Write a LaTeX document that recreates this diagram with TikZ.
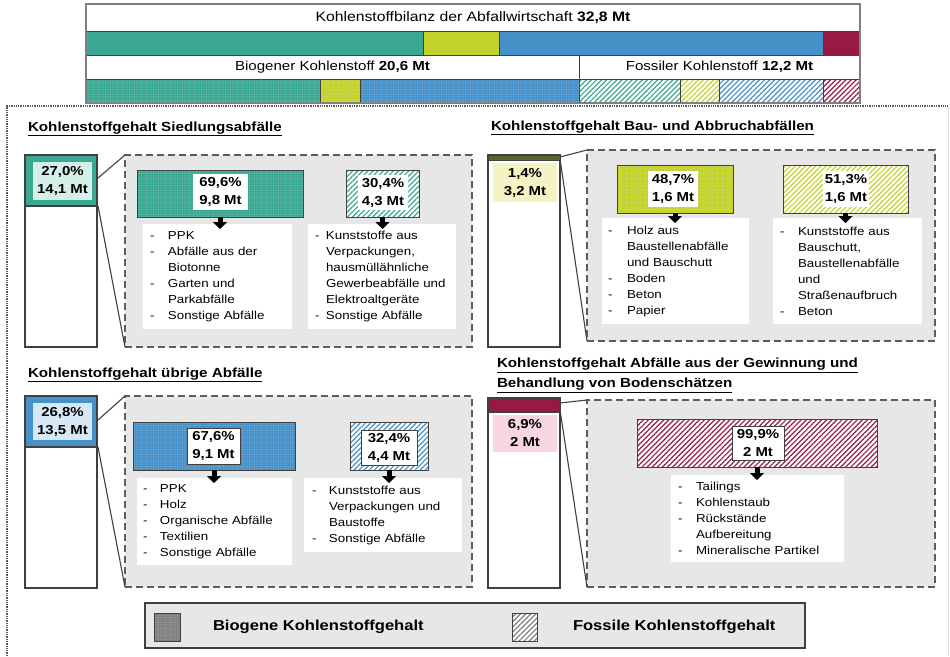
\documentclass[tikz,border=0pt]{standalone}
\usepackage{fontspec}
\setmainfont{Liberation Sans}[FakeStretch=1.15]
\usetikzlibrary{patterns.meta,arrows.meta,calc}

\definecolor{cteal}{RGB}{58,168,146}
\definecolor{cyel}{RGB}{196,210,44}
\definecolor{cblue}{RGB}{70,145,200}
\definecolor{cred}{RGB}{152,26,68}
\definecolor{lteal}{RGB}{214,238,232}
\definecolor{lblue}{RGB}{214,232,246}
\definecolor{lyel}{RGB}{245,243,196}
\definecolor{lpink}{RGB}{247,214,226}
\definecolor{panelgray}{RGB}{231,231,231}
\definecolor{edge}{RGB}{64,64,64}
\definecolor{darkolive}{RGB}{96,96,44}
\definecolor{swatchgray}{RGB}{128,128,128}

\newcommand\ftop{\fontsize{13.7pt}{16pt}\selectfont}
\newcommand\fsub{\fontsize{13.1pt}{16pt}\selectfont}
\newcommand\fsec{\fontsize{13.2pt}{20pt}\selectfont\bfseries}
\newcommand\flist{\fontsize{11.6pt}{16pt}\selectfont}
\newcommand\flbl{\fontsize{13pt}{18pt}\selectfont\bfseries}
\newcommand\fleg{\fontsize{14.4pt}{17pt}\selectfont\bfseries}

\newlength\dashw
\newcommand\dl{\makebox[\dashw][l]{-}}
\newcommand\cl{\makebox[\dashw][l]{}}

% rectangle node given by its corners (x1,y1)-(x2,y2)
\newcommand\rbox[7][]{%
  \pgfmathsetmacro\rbW{#5-#3}\pgfmathsetmacro\rbH{#6-#4}%
  \pgfmathsetmacro\rbX{(#3+#5)/2}\pgfmathsetmacro\rbY{(#4+#6)/2}%
  \node[minimum width=\rbW pt, minimum height=\rbH pt, #1] (#2) at (\rbX,\rbY) {#7};}

% white list box with left padding #6
\newcommand\lbox[7]{%
  \pgfmathsetmacro\rbW{#4-#2}\pgfmathsetmacro\rbH{#5-#3}%
  \pgfmathsetmacro\rbX{(#2+#4)/2}\pgfmathsetmacro\rbY{(#3+#5)/2}%
  \pgfmathsetmacro\rbT{#4-#2-2*#6}%
  \node[listbox, minimum width=\rbW pt, minimum height=\rbH pt,
        inner xsep=#6pt, text width=\rbT pt] (#1) at (\rbX,\rbY) {#7};}

\tikzset{
  every node/.style={inner sep=0pt, outer sep=0pt},
  seg/.style={draw=edge, line width=0.9pt},
  plain/.style={seg, fill=#1},
  bio/.style={fill=#1,
    postaction={pattern={Dots[distance=2.4pt,radius=0.45pt]}, pattern color=#1!50!white},
    postaction={draw=edge, line width=0.9pt}},
  fos/.style={fill=white,
    postaction={pattern={Lines[angle=45,distance=3.6pt,line width=1.2pt]}, pattern color=#1},
    postaction={draw=edge, line width=0.9pt}},
  cellw/.style={seg, fill=white},
  tall/.style={draw=edge, line width=1.2pt, fill=white},
  block/.style={draw=edge, line width=1.4pt, fill=#1},
  lbl/.style={font=\flbl, align=center, fill=#1},
  lbl/.default=white,
  panel/.style={fill=panelgray, draw=edge!85, line width=1.6pt, dash pattern=on 7pt off 4pt},
  listbox/.style={fill=white, font=\flist, align=left},
  zoomline/.style={draw=edge, line width=1.1pt},
  darr/.style={line width=5pt, -{Triangle[length=7pt,width=14pt]}, shorten >=-5pt},
  sect/.style={font=\fsec, anchor=west},
}

\begin{document}
\begin{tikzpicture}[x=1pt,y=-1pt]
\useasboundingbox (0,0) rectangle (950,656);
\fill[white] (0,0) rectangle (950,656);

% ---------- overall balance ----------
\rbox[cellw, font=\ftop]{total}{86}{4}{860}{31}{Kohlenstoffbilanz der Abfallwirtschaft \textbf{32,8 Mt}}
\rbox[plain=cteal]{ts1}{86}{31}{423}{55}{}
\rbox[plain=cyel]{ts2}{423}{31}{499}{55}{}
\rbox[plain=cblue]{ts3}{499}{31}{823}{55}{}
\rbox[plain=cred]{ts4}{823}{31}{860}{55}{}
\rbox[cellw, font=\fsub]{biog}{86}{55}{579}{79}{Biogener Kohlenstoff \textbf{20,6 Mt}}
\rbox[cellw, font=\fsub]{foss}{579}{55}{860}{79}{Fossiler Kohlenstoff \textbf{12,2 Mt}}
\rbox[bio=cteal]{bs1}{86}{79}{320}{103}{}
\rbox[bio=cyel]{bs2}{320}{79}{360}{103}{}
\rbox[bio=cblue]{bs3}{360}{79}{579}{103}{}
\rbox[fos=cteal]{fs1}{579}{79}{680}{103}{}
\rbox[fos=cyel]{fs2}{680}{79}{719}{103}{}
\rbox[fos=cblue]{fs3}{719}{79}{823}{103}{}
\rbox[fos=cred]{fs4}{823}{79}{860}{103}{}
\rbox[draw=gray, line width=1.6pt]{topframe}{86}{4}{860}{103}{}

% dotted frame round the four groups
\draw[gray!70!black, line width=1.3pt, densely dotted] (7,656) -- (7,106) -- (948,106);
\draw[gray!25, line width=0.8pt] (948,106) -- (948,656);

% ---------- Siedlungsabfälle ----------
\node[sect] (t1) at (28,129) {\underline{Kohlenstoffgehalt Siedlungsabfälle}};
\rbox[tall]{c1}{25}{155}{97}{347}{}
\rbox[block=cteal]{c1b}{25}{155}{97}{206}{}
\rbox[lbl=lteal]{c1l}{33}{162}{92}{200}{27,0\%\\14,1 Mt}
\rbox[panel]{g1}{125}{155}{472}{347}{}
\coordinate (z1a) at (98,178);
\coordinate (z1b) at (98,206);
\draw[zoomline] (z1a) -- (g1.north west);
\draw[zoomline] (z1b) -- (g1.south west);
\rbox[bio=cteal]{b11}{137}{170}{303}{217}{}
\rbox[lbl]{b11l}{193}{174}{248}{210}{69,6\%\\9,8 Mt}
\rbox[fos=cteal]{b12}{346}{170}{419}{217}{}
\rbox[lbl]{b12l}{358}{175}{408}{210}{30,4\%\\4,3 Mt}
\setlength\dashw{18pt}
\lbox{l11}{143}{224}{292}{329}{7}{\dl PPK\\\dl Abfälle aus der\\\cl Biotonne\\\dl Garten und\\\cl Parkabfälle\\\dl Sonstige Abfälle}
\setlength\dashw{11pt}
\lbox{l12}{308}{224}{456}{329}{7}{\dl Kunststoffe aus\\\cl Verpackungen,\\\cl hausmüllähnliche\\\cl Gewerbeabfälle und\\\cl Elektroaltgeräte\\\dl Sonstige Abfälle}
\draw[darr] (b11.south) -- (b11.south |- l11.north);
\draw[darr] (b12.south) -- (b12.south |- l12.north);

% ---------- Bau- und Abbruchabfälle ----------
\node[sect] (t2) at (491,128) {\underline{Kohlenstoffgehalt Bau- und Abbruchabfällen}};
\rbox[tall]{c2}{488}{155}{560}{347}{}
\rbox[block=darkolive, line width=1pt]{c2b}{488}{155}{560}{160}{}
\rbox[lbl=lyel]{c2l}{493}{163}{557}{202}{1,4\%\\3,2 Mt}
\rbox[panel]{g2}{587}{150}{935}{341}{}
\coordinate (z2a) at (560,157);
\coordinate (z2b) at (560,159);
\draw[zoomline] (z2a) -- (g2.north west);
\draw[zoomline] (z2b) -- (g2.south west);
\rbox[bio=cyel]{b21}{617}{165}{733}{213}{}
\rbox[lbl]{b21l}{648}{171}{698}{207}{48,7\%\\1,6 Mt}
\rbox[fos=cyel]{b22}{783}{165}{908}{213}{}
\rbox[lbl]{b22l}{823}{171}{869}{207}{51,3\%\\1,6 Mt}
\setlength\dashw{19pt}
\lbox{l21}{602}{218}{749}{324}{6}{\dl Holz aus\\\cl Baustellenabfälle\\\cl und Bauschutt\\\dl Boden\\\dl Beton\\\dl Papier}
\setlength\dashw{18pt}
\lbox{l22}{773}{218}{922}{324}{7}{\dl Kunststoffe aus\\\cl Bauschutt,\\\cl Baustellenabfälle\\\cl und\\\cl Straßenaufbruch\\\dl Beton}
\draw[darr] (b21.south) -- (b21.south |- l21.north);
\draw[darr] (b22.south) -- (b22.south |- l22.north);

% ---------- übrige Abfälle ----------
\node[sect] (t3) at (28,375) {\underline{Kohlenstoffgehalt übrige Abfälle}};
\rbox[tall]{c3}{25}{396}{97}{588}{}
\rbox[block=cblue]{c3b}{25}{396}{97}{447}{}
\rbox[lbl=lblue]{c3l}{33}{403}{92}{440}{26,8\%\\13,5 Mt}
\rbox[panel]{g3}{125}{396}{472}{587}{}
\coordinate (z3a) at (98,420);
\coordinate (z3b) at (98,447);
\draw[zoomline] (z3a) -- (g3.north west);
\draw[zoomline] (z3b) -- (g3.south west);
\rbox[bio=cblue]{b31}{133}{422}{295}{470}{}
\rbox[lbl, draw=edge, line width=0.8pt]{b31l}{187}{428}{240}{464}{67,6\%\\9,1 Mt}
\rbox[fos=cblue]{b32}{350}{422}{428}{470}{}
\rbox[lbl, draw=edge, line width=0.8pt]{b32l}{361}{430}{417}{465}{32,4\%\\4,4 Mt}
\setlength\dashw{17pt}
\lbox{l31}{137}{478}{292}{565}{6}{\dl PPK\\\dl Holz\\\dl Organische Abfälle\\\dl Textilien\\\dl Sonstige Abfälle}
\setlength\dashw{17pt}
\lbox{l32}{304}{478}{462}{552}{8}{\dl Kunststoffe aus\\\cl Verpackungen und\\\cl Baustoffe\\\dl Sonstige Abfälle}
\draw[darr] (b31.south) -- (b31.south |- l31.north);
\draw[darr] (b32.south) -- (b32.south |- l32.north);

% ---------- Gewinnung und Behandlung von Bodenschätzen ----------
\node[font=\fsec, anchor=north west, align=left] (t4) at (497,358)
  {\underline{Kohlenstoffgehalt Abfälle aus der Gewinnung und}\\\underline{Behandlung von Bodenschätzen}};
\rbox[tall]{c4}{488}{398}{560}{588}{}
\rbox[block=cred, line width=1.2pt]{c4b}{488}{398}{560}{412}{}
\rbox[lbl=lpink]{c4l}{493}{415}{557}{452}{6,9\%\\2 Mt}
\rbox[panel]{g4}{587}{400}{935}{587}{}
\coordinate (z4a) at (560,403);
\coordinate (z4b) at (560,410);
\draw[zoomline] (z4a) -- (g4.north west);
\draw[zoomline] (z4b) -- (g4.south west);
\rbox[fos=cred]{b41}{637}{419}{877}{467}{}
\rbox[lbl, draw=edge, line width=0.8pt]{b41l}{732}{426}{784}{460}{99,9\%\\2 Mt}
\setlength\dashw{18pt}
\lbox{l41}{671}{475}{844}{562}{7}{\dl Tailings\\\dl Kohlenstaub\\\dl Rückstände\\\cl Aufbereitung\\\dl Mineralische Partikel}
\draw[darr] (b41.south) -- (b41.south |- l41.north);

% ---------- legend ----------
\rbox[fill=panelgray, draw=edge, line width=1.2pt]{leg}{145}{603}{805}{648}{}
\rbox[bio=swatchgray]{lg1}{154}{613}{180}{641}{}
\node[font=\fleg, anchor=west] (lt1) at (213,627) {Biogene Kohlenstoffgehalt};
\rbox[fos=swatchgray]{lg2}{512}{613}{537}{641}{}
\node[font=\fleg, anchor=west] (lt2) at (573,627) {Fossile Kohlenstoffgehalt};
\end{tikzpicture}
\end{document}
